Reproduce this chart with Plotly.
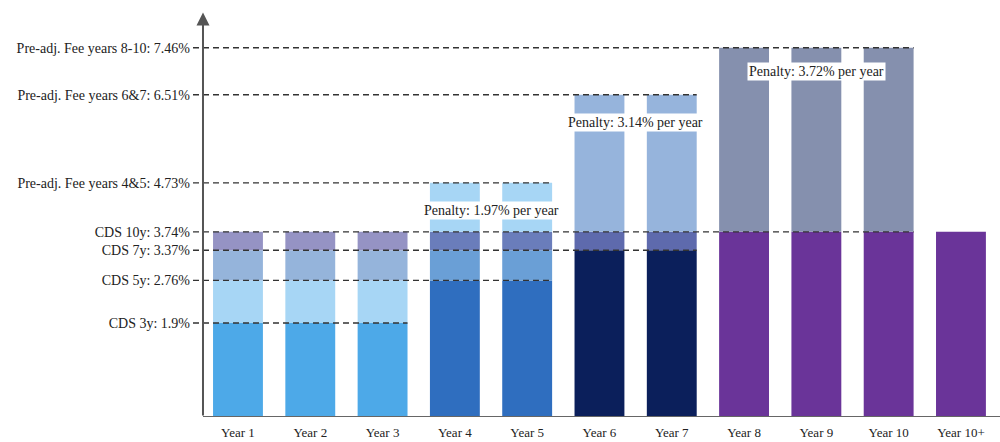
import plotly.graph_objects as go

# ---- data ----
categories = ["Year 1", "Year 2", "Year 3", "Year 4", "Year 5", "Year 6",
              "Year 7", "Year 8", "Year 9", "Year 10", "Year 10+"]

cds_3y = 1.9
cds_5y = 2.76
cds_7y = 3.37
cds_10y = 3.74
fee_4_5 = 4.73
fee_6_7 = 6.51
fee_8_10 = 7.46

group_years = [
    ["Year 1", "Year 2", "Year 3"],
    ["Year 4", "Year 5"],
    ["Year 6", "Year 7"],
    ["Year 8", "Year 9", "Year 10"],
    ["Year 10+"],
]
group_levels = [
    [cds_3y, cds_5y, cds_7y, cds_10y],
    [cds_5y, cds_7y, cds_10y, fee_4_5],
    [cds_7y, cds_10y, fee_6_7],
    [cds_10y, fee_8_10],
    [cds_10y],
]
group_colors = [
    ["#4DA9E8", "#A7D6F5", "#95B4DB", "#9593C4"],
    ["#2F6EBF", "#6A9FD6", "#6A7DBB", "#A7D6F5"],
    ["#0B1F5B", "#5E6AAD", "#96B4DC"],
    ["#6A3499", "#8590AE"],
    ["#6A3499"],
]

tick_vals = [cds_3y, cds_5y, cds_7y, cds_10y, fee_4_5, fee_6_7, fee_8_10]
tick_text = ["CDS 3y: 1.9%", "CDS 5y: 2.76%", "CDS 7y: 3.37%", "CDS 10y: 3.74%",
             "Pre-adj. Fee years 4&5: 4.73%", "Pre-adj. Fee years 6&7: 6.51%",
             "Pre-adj. Fee years 8-10: 7.46%"]

# dashed reference lines: (level, index of last category reached)
ref_lines = [(cds_3y, 2), (cds_5y, 4), (cds_7y, 6), (cds_10y, 9),
             (fee_4_5, 4), (fee_6_7, 6), (fee_8_10, 9)]

penalty_text = ["Penalty: 1.97% per year", "Penalty: 3.14% per year",
                "Penalty: 3.72% per year"]
penalty_x = [3.5, 5.5, 8]
penalty_y = [4.18, 5.94, 6.97]

# ---- figure ----
BAR_W = 0.69
X0, X1 = -0.636, 10.54
AXIS_X = -0.484
Y_TOP = 8.222
SERIF = "Liberation Serif, Times New Roman, serif"

fig = go.Figure()
for years, levels, colors in zip(group_years, group_levels, group_colors):
    prev = 0.0
    for lvl, col in zip(levels, colors):
        fig.add_trace(go.Bar(
            x=years, y=[lvl - prev] * len(years), base=[prev] * len(years),
            width=BAR_W, marker=dict(color=col, line=dict(width=0)),
            hoverinfo="skip", showlegend=False))
        prev = lvl

shapes = []
for lvl, last in ref_lines:
    shapes.append(dict(type="line", xref="x", yref="y",
                       x0=X0 + 1 / 72.3, x1=last + BAR_W / 2, y0=lvl, y1=lvl,
                       line=dict(color="#333333", width=1.4, dash="6px,4px"),
                       layer="above"))
# x axis line
shapes.append(dict(type="line", xref="x", yref="y", x0=AXIS_X, x1=X1,
                   y0=0, y1=0, line=dict(color="#666666", width=2), layer="above"))

fig.update_layout(shapes=shapes)

# y axis with arrow
fig.add_annotation(x=AXIS_X, y=8.17, ax=AXIS_X, ay=0, xref="x", yref="y",
                   axref="x", ayref="y", text="", showarrow=True,
                   arrowhead=2, arrowsize=1.3, arrowwidth=2, arrowcolor="#555555")

for t, px, py in zip(penalty_text, penalty_x, penalty_y):
    fig.add_annotation(x=px, y=py, xref="x", yref="y", text=t, showarrow=False,
                       bgcolor="white", borderpad=1,
                       font=dict(family=SERIF, size=14, color="#222222"))

fig.update_layout(
    width=1000, height=442,
    margin=dict(l=192, r=0, t=10, b=25),
    plot_bgcolor="white", paper_bgcolor="white",
    barmode="overlay", showlegend=False,
    xaxis=dict(type="category", categoryorder="array", categoryarray=categories,
               range=[X0, X1], showgrid=False, zeroline=False, showline=False,
               ticks="", ticklabelstandoff=6,
               tickfont=dict(family=SERIF, size=13, color="#222222")),
    yaxis=dict(range=[0, Y_TOP], tickmode="array", tickvals=tick_vals,
               ticktext=tick_text, showgrid=False, zeroline=False, showline=False,
               ticks="", ticklabelstandoff=1,
               tickfont=dict(family=SERIF, size=14, color="#222222")),
)

fig.write_html("out.html")
